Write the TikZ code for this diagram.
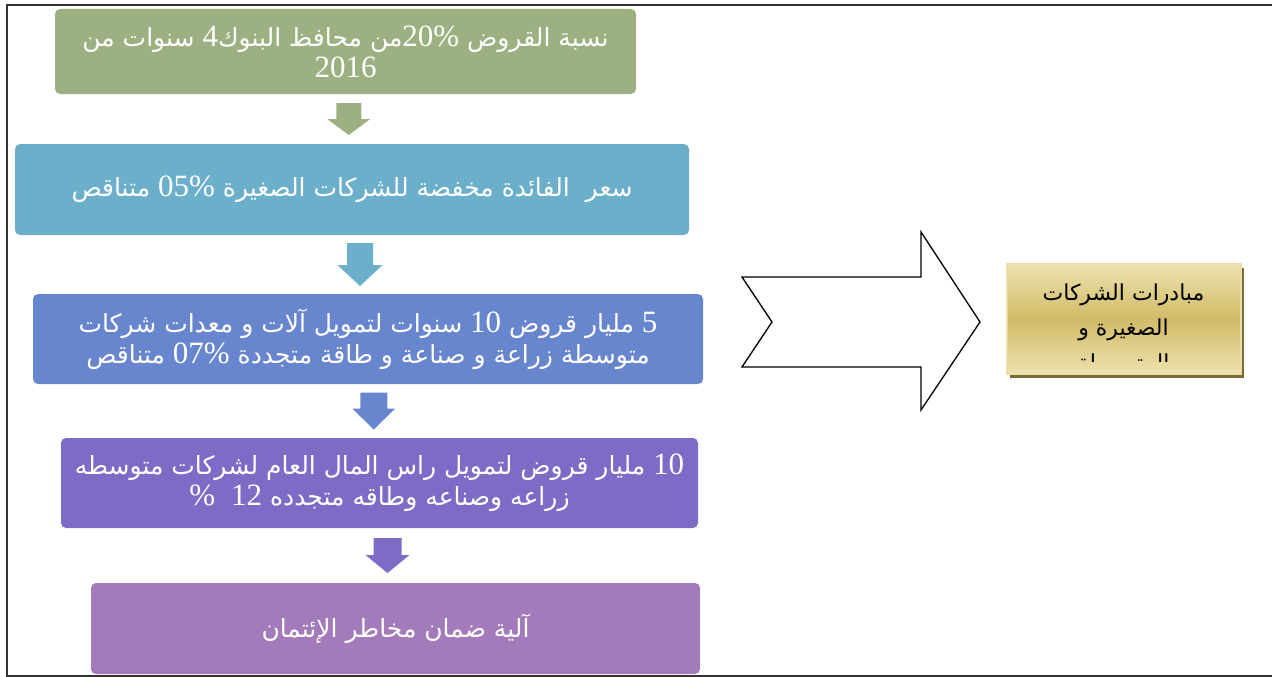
\documentclass[tikz,border=0pt]{standalone}
\usepackage{fontspec}
\usetikzlibrary{calc}
\TeXXeTstate=1
\newfontfamily\arabicfont[Script=Arabic]{DejaVu Sans}
\newfontfamily\digitfont{Liberation Serif}
% numbers are set left to right in a larger serif face
\newcommand\dg[1]{{\digitfont\fontsize{31}{31}\selectfont\beginL #1\endL}}
% downward block arrow: centre, colour, length, head width, shaft width, head length
\newcommand\blockdown[6]{%
  \fill[#2] ($(#1)+(-#5/2,-#3/2)$) -- ($(#1)+(#5/2,-#3/2)$)
    -- ($(#1)+(#5/2,#3/2-#6)$) -- ($(#1)+(#4/2,#3/2-#6)$) -- ($(#1)+(0,#3/2)$)
    -- ($(#1)+(-#4/2,#3/2-#6)$) -- ($(#1)+(-#5/2,#3/2-#6)$) -- cycle;}

\definecolor{stageA}{HTML}{9CB081}
\definecolor{stageB}{HTML}{6BAFCA}
\definecolor{stageC}{HTML}{6886CE}
\definecolor{stageD}{HTML}{7E6BC6}
\definecolor{stageE}{HTML}{A47BBA}
\definecolor{goldTop}{HTML}{EDE2AE}
\definecolor{goldMid}{HTML}{D2BB68}
\definecolor{goldRim}{HTML}{E9DEAA}
\definecolor{goldShadow}{HTML}{7D6C31}

\tikzset{
  stage/.style={rounded corners=5pt, fill=#1, text=white, align=center,
    inner sep=0pt, font=\arabicfont\fontsize{25}{31}\selectfont},
  frameline/.style={line width=2pt, draw=black!80},
  bigarrow/.style={draw=black, line width=1.3pt, fill=white, line join=miter},
}

\begin{document}
\begin{tikzpicture}[x=1pt,y=-1pt]
\useasboundingbox (0,0) rectangle (1272,677);

% page frame (open on the right)
\draw[frameline] (1272,5) -- (7,5) -- (7,676) -- (1272,676);

% the five stages
\node[stage=stageA, minimum width=581pt, minimum height=85pt] (s1) at (345.5,51.5)
  {\beginR نسبة القروض \dg{20\%}من محافظ البنوك\dg{4} سنوات من\endR\\ \dg{2016}};
\node[stage=stageB, minimum width=674pt, minimum height=91pt] (s2) at (352,189.5)
  {\beginR سعر\ \ الفائدة مخفضة للشركات الصغيرة \dg{05\%} متناقص\endR};
\node[stage=stageC, minimum width=670pt, minimum height=90pt] (s3) at (368,339)
  {\beginR \dg{5} مليار قروض \dg{10} سنوات لتمويل آلات و معدات شركات\endR\\
   \beginR متوسطة زراعة و صناعة و طاقة متجددة \dg{07\%} متناقص\endR};
\node[stage=stageD, minimum width=637pt, minimum height=90pt] (s4) at (379.5,483)
  {\beginR \dg{10} مليار قروض لتمويل راس المال العام لشركات متوسطه\endR\\
   \beginR زراعه وصناعه وطاقه متجدده \dg{12}\ \ \dg{\%}\endR};
\node[stage=stageE, minimum width=609pt, minimum height=91pt] (s5) at (395.5,628.5)
  {\beginR آلية ضمان مخاطر الإئتمان\endR};

% block arrows between consecutive stages
\coordinate (m1) at ($(s1.south)!0.5!(s2.north)$);
\coordinate (m2) at ($(s2.south)!0.5!(s3.north)$);
\coordinate (m3) at ($(s3.south)!0.5!(s4.north)$);
\coordinate (m4) at ($(s4.south)!0.5!(s5.north)$);
\blockdown{m1}{stageA}{32}{43}{25}{16}
\blockdown{m2}{stageB}{43}{45}{26}{21}
\blockdown{m3}{stageC}{37}{43}{27}{21}
\blockdown{m4}{stageD}{35}{44}{28}{18}

% large notched arrow
\draw[bigarrow] (742,277) -- (921,277) -- (921,232) -- (980,322) -- (921,410)
  -- (921,367) -- (742,367) -- (772,322) -- cycle;

% gold result box with its shadow
\fill[goldShadow] (1010,268) rectangle (1244,378);
\node[draw=goldRim, line width=2pt, top color=goldTop, bottom color=goldTop,
  middle color=goldMid, minimum width=234pt, minimum height=110pt, inner sep=0pt]
  (res) at (1123.5,319) {};
\begin{scope}
  \clip (1008,266) rectangle (1239,361);
  \node[anchor=north, inner sep=0pt, align=center,
    font=\arabicfont\fontsize{22}{35}\selectfont] (restext) at (1123.5,284)
    {\beginR مبادرات الشركات\endR\\ \beginR الصغيرة و\endR\\ \beginR المتوسطة\endR};
\end{scope}
\end{tikzpicture}
\end{document}
